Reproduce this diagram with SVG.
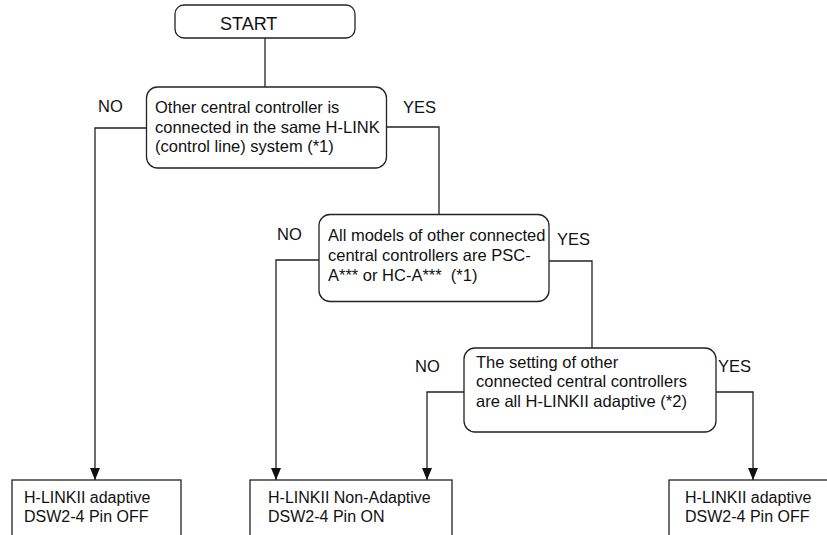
<svg xmlns="http://www.w3.org/2000/svg" width="827" height="535" viewBox="0 0 827 535">
<style>
.box{fill:#fff;stroke:#222;stroke-width:1.3}
.t{font-family:"Liberation Sans",Arial,sans-serif;font-size:16.5px;fill:#111;white-space:pre}
.b{font-family:"Liberation Sans",Arial,sans-serif;font-size:16px;fill:#111}
.c{fill:none;stroke:#222;stroke-width:1.3}
</style>
<defs>
<marker id="ah" markerWidth="12" markerHeight="10" refX="12" refY="5" orient="auto" markerUnits="userSpaceOnUse" viewBox="0 0 12 10">
<path d="M0,0 L12,5 L0,10 Z" fill="#111"/>
</marker>
</defs>
<g id="connectors">
<path class="c" d="M265,38 V87"/>
<path class="c" d="M147,128 H95 V480" marker-end="url(#ah)"/>
<path class="c" d="M386,127 H439 V215"/>
<path class="c" d="M319,260 H276 V480" marker-end="url(#ah)"/>
<path class="c" d="M549,261 H592 V348"/>
<path class="c" d="M464,392 H427 V480" marker-end="url(#ah)"/>
<path class="c" d="M716,392 H753 V480" marker-end="url(#ah)"/>
<text class="t" x="98" y="112">NO</text>
<text class="t" x="403" y="113">YES</text>
<text class="t" x="277" y="240">NO</text>
<text class="t" x="557" y="245">YES</text>
<text class="t" x="415" y="372">NO</text>
<text class="t" x="718" y="372">YES</text>
</g>
<g id="start">
<rect class="box" x="175" y="5" width="180" height="33" rx="9"/>
<text class="t" x="220" y="30" style="font-size:18px">START</text>
</g>
<g id="q1">
<rect class="box" x="146.5" y="87" width="240" height="81" rx="11"/>
<text class="t" x="155" y="113">Other central controller is</text>
<text class="t" x="155" y="133">connected in the same H-LINK</text>
<text class="t" x="155" y="152">(control line) system (*1)</text>
</g>
<g id="q2">
<rect class="box" x="319" y="214.5" width="230" height="87" rx="11"/>
<text class="t" x="328" y="241">All models of other connected</text>
<text class="t" x="328" y="261">central controllers are PSC-</text>
<text class="t" x="328" y="281">A*** or HC-A***  (*1)</text>
</g>
<g id="q3">
<rect class="box" x="464" y="348" width="252" height="84" rx="11"/>
<text class="t" x="476" y="368">The setting of other</text>
<text class="t" x="476" y="387">connected central controllers</text>
<text class="t" x="476" y="407">are all H-LINKII adaptive (*2)</text>
</g>
<g id="r1">
<rect class="box" x="12" y="480" width="169" height="70"/>
<text class="b" x="24" y="503">H-LINKII adaptive</text>
<text class="b" x="24" y="522">DSW2-4 Pin OFF</text>
</g>
<g id="r2">
<rect class="box" x="250" y="480" width="202" height="70"/>
<text class="b" x="268" y="503">H-LINKII Non-Adaptive</text>
<text class="b" x="268" y="522">DSW2-4 Pin ON</text>
</g>
<g id="r3">
<rect class="box" x="669" y="480" width="170" height="70"/>
<text class="b" x="685" y="503">H-LINKII adaptive</text>
<text class="b" x="685" y="522">DSW2-4 Pin OFF</text>
</g>
</svg>
